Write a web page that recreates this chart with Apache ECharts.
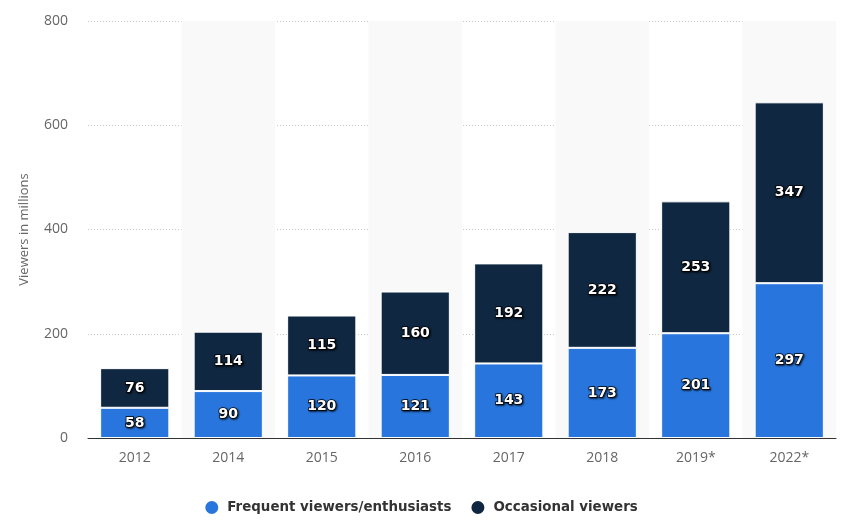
<!DOCTYPE html>
<html><head><meta charset="utf-8">
<script src="https://cdn.jsdelivr.net/npm/echarts@6/dist/echarts.min.js"></script>
<style>html,body{margin:0;padding:0;background:#fff}#c{width:841px;height:523px}</style>
</head><body><div id="c"></div>
<script>
const categories = ['2012','2014','2015','2016','2017','2018','2019*','2022*'];
const frequent = [58, 90, 120, 121, 143, 173, 201, 297];
const occasional = [76, 114, 115, 160, 192, 222, 253, 347];
const yTicks = [0, 200, 400, 600, 800];

const labelStyle = {
  show: true, position: 'inside', color: '#fff', fontWeight: 'bold',
  fontFamily: 'DejaVu Sans', fontSize: 14,
  textBorderColor: '#000', textBorderWidth: 1.5,
  textShadowColor: 'rgba(0,0,0,0.7)', textShadowBlur: 2, textShadowOffsetX: 1, textShadowOffsetY: 1
};
const chart = echarts.init(document.getElementById('c'));
chart.setOption({
  animation: false,
  grid: { left: 88, right: 5, top: 21, bottom: 85, containLabel: false },
  legend: {
    bottom: 2, left: 'center', itemWidth: 15, itemHeight: 15, itemGap: 18, icon: 'circle',
    textStyle: { fontFamily: 'DejaVu Sans', fontSize: 13.4, fontWeight: 'bold', color: '#333', padding: [0, 0, 0, 3] },
    data: ['Frequent viewers/enthusiasts', 'Occasional viewers']
  },
  xAxis: {
    type: 'category', data: categories,
    axisLine: { lineStyle: { color: '#333', width: 1 } },
    axisTick: { show: false },
    axisLabel: { color: '#666', fontSize: 14, fontFamily: 'Open Sans', margin: 13 },
    splitArea: { show: true, areaStyle: { color: ['rgba(255,255,255,0)', '#f9f9f9'] } }
  },
  yAxis: {
    type: 'value', min: yTicks[0], max: yTicks[yTicks.length-1], interval: 200,
    name: 'Viewers in millions', nameLocation: 'middle', nameGap: 57,
    nameTextStyle: { color: '#666', fontSize: 13, fontFamily: 'Open Sans' },
    axisLine: { show: false }, axisTick: { show: false },
    axisLabel: { color: '#666', fontSize: 14, fontFamily: 'Open Sans', margin: 20 },
    splitLine: { lineStyle: { color: '#c8c8c8', type: [1, 2] } }
  },
  series: [
    { name: 'Frequent viewers/enthusiasts', type: 'bar', stack: 'a', data: frequent, barWidth: '74%',
      itemStyle: { color: '#2876dd', borderColor: '#fff', borderWidth: 1 }, label: labelStyle, z: 3 },
    { name: 'Occasional viewers', type: 'bar', stack: 'a', data: occasional, barWidth: '74%',
      itemStyle: { color: '#0f2741', borderColor: '#fff', borderWidth: 1 }, label: labelStyle, z: 3 }
  ]
});
</script></body></html>
